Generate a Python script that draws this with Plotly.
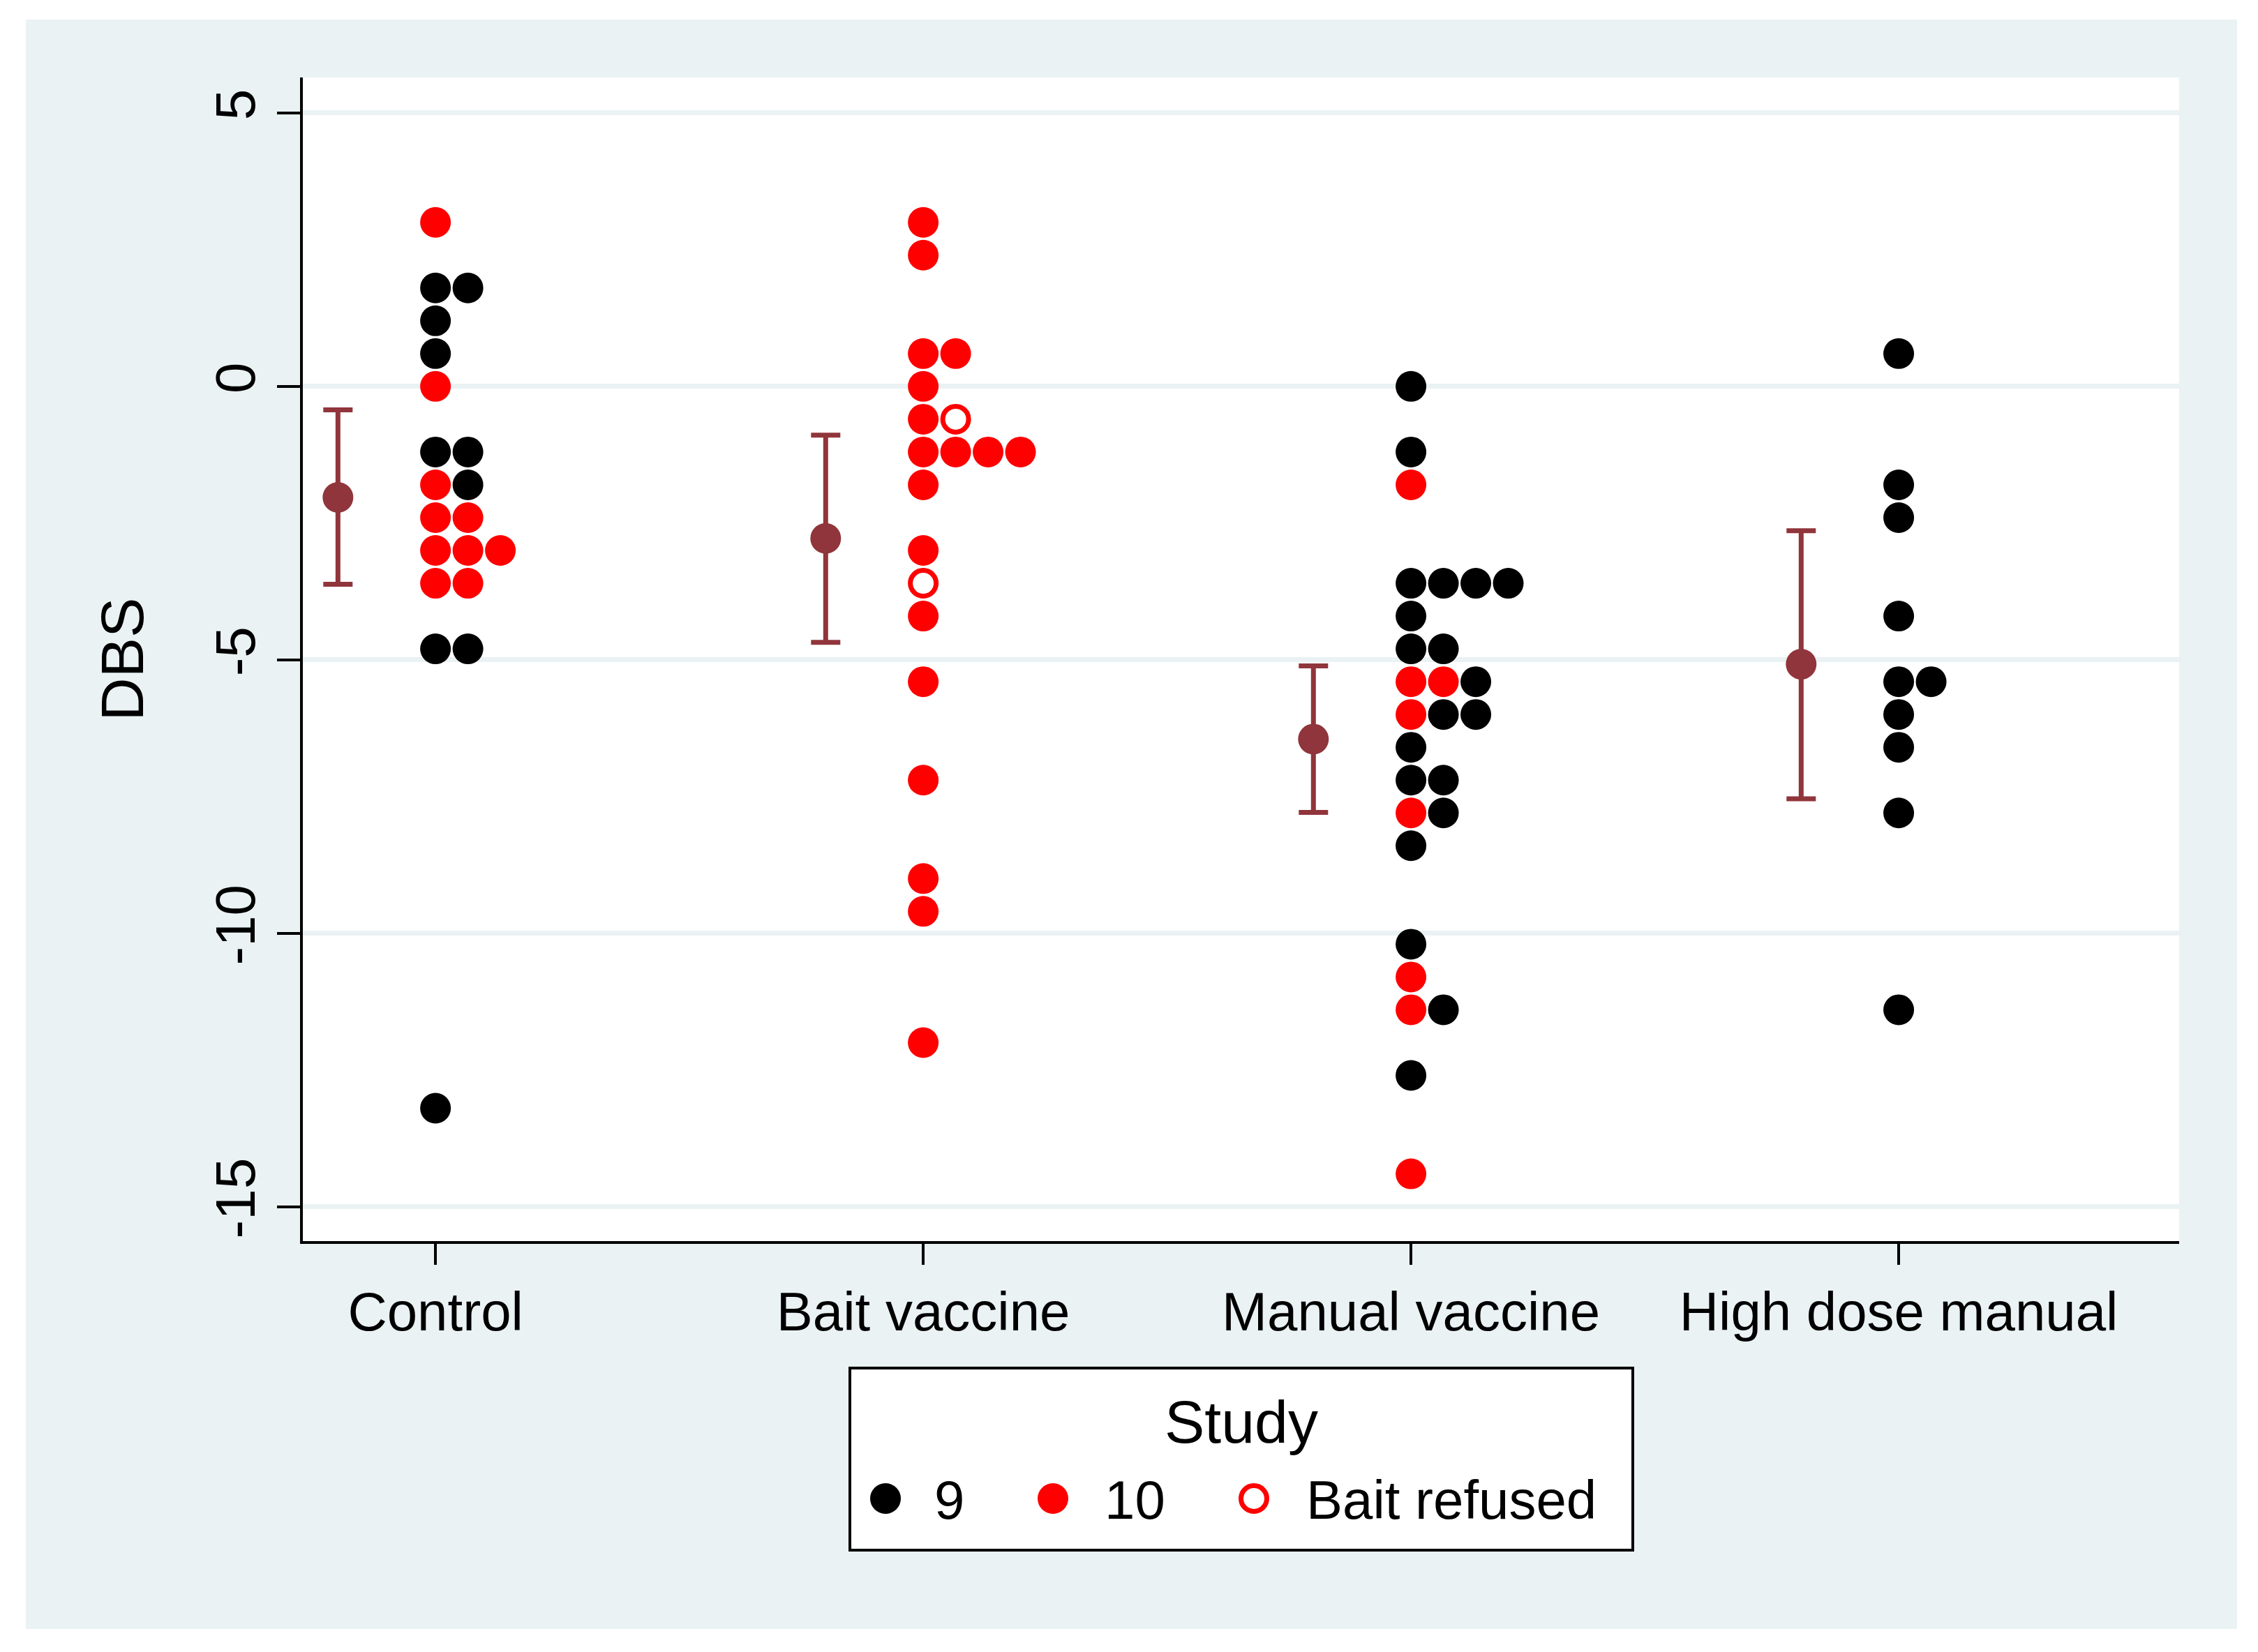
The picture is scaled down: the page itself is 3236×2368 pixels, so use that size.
import plotly.graph_objects as go

# page size and the 8px body offset the html page adds
PAGE_W, PAGE_H = 3236, 2368
OFF = 8
W, H = PAGE_W - 2 * OFF, PAGE_H - 2 * OFF
# plot area in page pixels: x 434..3123, y 111..1779
ML, MT = 434 - OFF, 111 - OFF
MR, MB = (PAGE_W - OFF) - 3123, (PAGE_H - OFF) - 1779

groups = ["Control", "Bait vaccine", "Manual vaccine", "High dose manual"]

# DBS values
control_9 = [1.8, 1.8, 1.2, 0.6, -1.2, -1.2, -1.8, -4.8, -4.8, -13.2]
control_10 = [3.0, 0.0, -1.8, -2.4, -2.4, -3.0, -3.0, -3.0, -3.6, -3.6]
bait_9 = []
bait_10 = [3.0, 2.4, 0.6, 0.6, 0.0, -0.6, -1.2, -1.2, -1.2, -1.2, -1.8,
           -3.0, -4.2, -5.4, -7.2, -9.0, -9.6, -12.0]
bait_refused = [-0.6, -3.6]
manual_9 = [0.0, -1.2, -3.6, -3.6, -3.6, -3.6, -4.2, -4.8, -4.8, -5.4,
            -6.0, -6.0, -6.6, -7.2, -7.2, -7.8, -8.4, -10.2, -11.4, -12.6]
manual_10 = [-1.8, -5.4, -5.4, -6.0, -7.8, -10.8, -11.4, -14.4]
high_9 = [0.6, -1.8, -2.4, -4.2, -5.4, -5.4, -6.0, -6.6, -7.8, -11.4]
high_10 = []

# group means with 95% CI
mean_dbs = [-2.03, -2.78, -6.45, -5.08]
ci_low = [-3.62, -4.68, -7.79, -7.54]
ci_high = [-0.43, -0.89, -5.11, -2.64]

legend_labels = ["9", "10", "Bait refused"]

BG = "#EAF2F3"
CRANBERRY = "#90353B"
FONT = "Arial, Liberation Sans, sans-serif"
DOT_STEP = 0.0665
CI_SHIFT = -0.2


def px_x(x):
    # page pixel -> paper x
    return (x - OFF - ML) / (W - ML - MR)


def px_y(y):
    # page pixel -> paper y
    return (H - MB - (y - OFF)) / (H - MT - MB)


# stack equal values side by side (study 10 first, then 9, then refused)
x9, y9, x10, y10, xr, yr = [], [], [], [], [], []
per_group = [
    (control_10, control_9, []),
    (bait_10, bait_9, bait_refused),
    (manual_10, manual_9, []),
    (high_10, high_9, []),
]
for gi, series in enumerate(per_group):
    counts = {}
    for si, vals in enumerate(series):
        for v in vals:
            key = round(v, 1)
            k = counts.get(key, 0)
            counts[key] = k + 1
            xpos = gi + 1 + k * DOT_STEP
            if si == 0:
                x10.append(xpos); y10.append(v)
            elif si == 1:
                x9.append(xpos); y9.append(v)
            else:
                xr.append(xpos); yr.append(v)

fig = go.Figure()

fig.add_trace(go.Scatter(
    x=[i + 1 + CI_SHIFT for i in range(len(groups))],
    y=mean_dbs,
    mode="markers",
    marker=dict(size=44, color=CRANBERRY),
    error_y=dict(
        type="data",
        symmetric=False,
        array=[h - m for h, m in zip(ci_high, mean_dbs)],
        arrayminus=[m - l for m, l in zip(mean_dbs, ci_low)],
        color=CRANBERRY,
        thickness=7,
        width=21,
    ),
    hoverinfo="skip",
))
fig.add_trace(go.Scatter(x=x9, y=y9, mode="markers",
                         marker=dict(size=44, color="black"), hoverinfo="skip"))
fig.add_trace(go.Scatter(x=x10, y=y10, mode="markers",
                         marker=dict(size=44, color="#FF0000"), hoverinfo="skip"))
fig.add_trace(go.Scatter(x=xr, y=yr, mode="markers",
                         marker=dict(size=37, color="white",
                                     line=dict(color="#FF0000", width=7)),
                         hoverinfo="skip"))

shapes = [
    # outer light panel
    dict(type="rect", xref="paper", yref="paper", layer="below",
         x0=px_x(37), x1=px_x(3206), y0=px_y(2335), y1=px_y(28),
         fillcolor=BG, line=dict(width=0)),
    # white plot region
    dict(type="rect", xref="paper", yref="paper", layer="below",
         x0=0, x1=1, y0=0, y1=1, fillcolor="white", line=dict(width=0)),
    # legend box
    dict(type="rect", xref="paper", yref="paper",
         x0=px_x(1218), x1=px_x(2340), y0=px_y(2222), y1=px_y(1961),
         fillcolor="white", line=dict(color="black", width=4)),
]

annotations = [
    dict(text="Study", xref="paper", yref="paper", x=px_x(1779), y=px_y(2038),
         xanchor="center", yanchor="middle", showarrow=False,
         font=dict(family=FONT, size=86, color="black")),
]

legend_marker_x = [1269, 1509, 1797]
legend_text_x = [1337, 1581, 1870]
legend_styles = [
    dict(fillcolor="black", line=dict(width=0)),
    dict(fillcolor="#FF0000", line=dict(width=0)),
    dict(fillcolor="white", line=dict(color="#FF0000", width=7)),
]
for mx, tx, lab, st in zip(legend_marker_x, legend_text_x, legend_labels, legend_styles):
    r = 22 if st["line"]["width"] == 0 else 18.5
    shapes.append(dict(type="circle", xref="paper", yref="paper",
                       xsizemode="pixel", ysizemode="pixel",
                       xanchor=px_x(mx), yanchor=px_y(2148),
                       x0=-r, x1=r, y0=-r, y1=r, **st))
    annotations.append(dict(text=lab, xref="paper", yref="paper",
                            x=px_x(tx), y=px_y(2150), xanchor="left", yanchor="middle",
                            showarrow=False,
                            font=dict(family=FONT, size=78, color="black")))

fig.update_layout(
    width=W,
    height=H,
    margin=dict(l=ML, r=MR, t=MT, b=MB, pad=0),
    paper_bgcolor="white",
    plot_bgcolor="white",
    showlegend=False,
    font=dict(family=FONT, size=78, color="black"),
    shapes=shapes,
    annotations=annotations,
    xaxis=dict(
        range=[0.728, 4.575],
        tickvals=[1, 2, 3, 4],
        ticktext=groups,
        ticks="outside",
        ticklen=30,
        tickwidth=4,
        tickcolor="black",
        showline=True,
        linecolor="black",
        linewidth=4,
        showgrid=False,
        zeroline=False,
        tickfont=dict(family=FONT, size=78, color="black"),
        ticklabelstandoff=0,
    ),
    yaxis=dict(
        range=[-15.63, 5.65],
        tickvals=[-15, -10, -5, 0, 5],
        ticktext=["-15", "-10", "-5", "0", "5"],
        tickangle=-90,
        ticks="outside",
        ticklen=33,
        tickwidth=4,
        tickcolor="black",
        showline=True,
        linecolor="black",
        linewidth=4,
        showgrid=True,
        gridcolor=BG,
        gridwidth=7,
        zeroline=False,
        tickfont=dict(family=FONT, size=80, color="black"),
        ticklabelstandoff=0,
        title=dict(text="DBS", font=dict(family=FONT, size=86, color="black"),
                   standoff=60),
    ),
)

fig.write_html("out.html", config={"displayModeBar": False})
